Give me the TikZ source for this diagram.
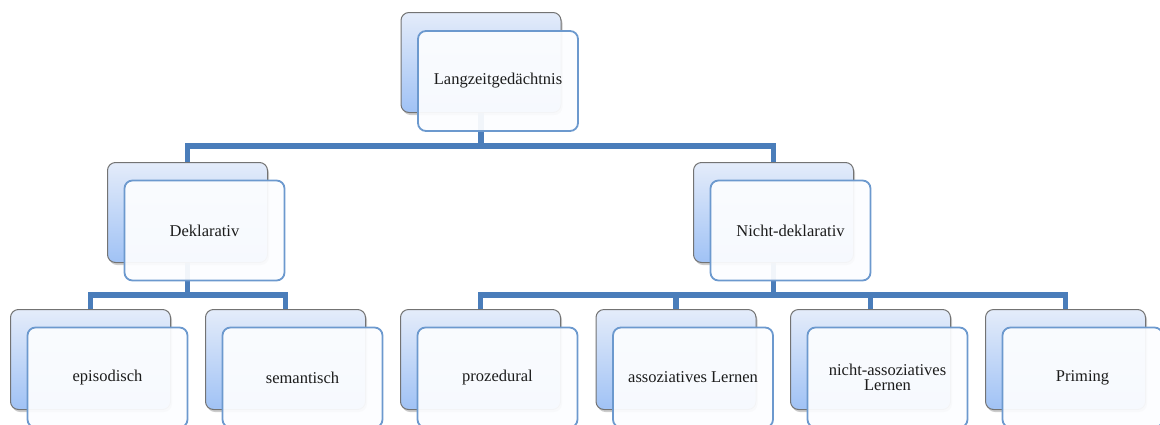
\documentclass[tikz,border=0pt]{standalone}
\usepackage{fontspec}
\setmainfont{Liberation Serif}
\usetikzlibrary{shadows}
\pgfdeclarelayer{bg}
\pgfsetlayers{bg,main}
\definecolor{conncol}{RGB}{74,125,186}
\definecolor{backtop}{RGB}{228,236,250}
\definecolor{backbot}{RGB}{160,194,245}
\definecolor{backdraw}{RGB}{115,115,115}
\definecolor{frontdraw}{RGB}{108,153,206}
\definecolor{frontfill}{RGB}{252,253,255}
\definecolor{txt}{RGB}{28,28,28}
\tikzset{
  backbox/.style={rectangle, rounded corners=8pt, minimum width=160pt, minimum height=100pt,
    draw=backdraw, line width=1pt, top color=backtop, bottom color=backbot,
    drop shadow={shadow xshift=1.5pt, shadow yshift=-2.5pt, opacity=0.4}, inner sep=0pt},
  frontbox/.style={rectangle, rounded corners=8pt, minimum width=160pt, minimum height=100pt,
    draw=frontdraw, line width=1.8pt, fill=frontfill, fill opacity=0.94, text opacity=1,
    text=txt, font=\fontsize{16.5}{15.5}\selectfont, align=center, inner sep=0pt},
  conn/.style={draw=conncol, line width=5.5pt},
}
\begin{document}
\begin{tikzpicture}[x=1pt,y=-1pt]
\useasboundingbox (0,0) rectangle (1160,424);
\clip (0,0) rectangle (1160,424);
\coordinate (bus1) at (0,146);
\coordinate (bus2) at (0,295);
% level 0
\node[backbox] (b0) at (481,62.5) {};
\node[frontbox] (f0) at (498,81) {Langzeitgedächtnis};
% level 1
\node[backbox] (b1) at (187.5,212.5) {};
\node[frontbox] (f1) at (204.5,230.5) {Deklarativ};
\node[backbox] (b2) at (773.5,212.5) {};
\node[frontbox] (f2) at (790.5,230.5) {Nicht-deklarativ};
% level 2
\node[backbox] (c1) at (90.5,359.5) {};
\node[frontbox] (g1) at (107.5,377.5) {episodisch};
\node[backbox] (c2) at (285.5,359.5) {};
\node[frontbox] (g2) at (302.5,377.5) {semantisch};
\node[backbox] (c3) at (480.5,359.5) {};
\node[frontbox] (g3) at (497.5,377.5) {prozedural};
\node[backbox] (c4) at (676,359.5) {};
\node[frontbox] (g4) at (693,377.5) {assoziatives Lernen};
\node[backbox] (c5) at (870.5,359.5) {};
\node[frontbox] (g5) at (887.5,377.5) {nicht-assoziatives\\Lernen};
\node[backbox] (c6) at (1065.5,359.5) {};
\node[frontbox] (g6) at (1082.5,377.5) {Priming};
\begin{pgfonlayer}{bg}
\draw[conn] (b0.center) -- (b0.center |- bus1) -| (b1.center);
\draw[conn] (b0.center |- bus1) -| (b2.center);
\draw[conn] (b1.center) -- (b1.center |- bus2) -| (c1.center);
\draw[conn] (b1.center |- bus2) -| (c2.center);
\draw[conn] (b2.center) -- (b2.center |- bus2) -| (c3.center);
\draw[conn] (b2.center |- bus2) -| (c6.center);
\draw[conn] (c4.center |- bus2) -- (c4.center);
\draw[conn] (c5.center |- bus2) -- (c5.center);
\end{pgfonlayer}
\end{tikzpicture}
\end{document}
